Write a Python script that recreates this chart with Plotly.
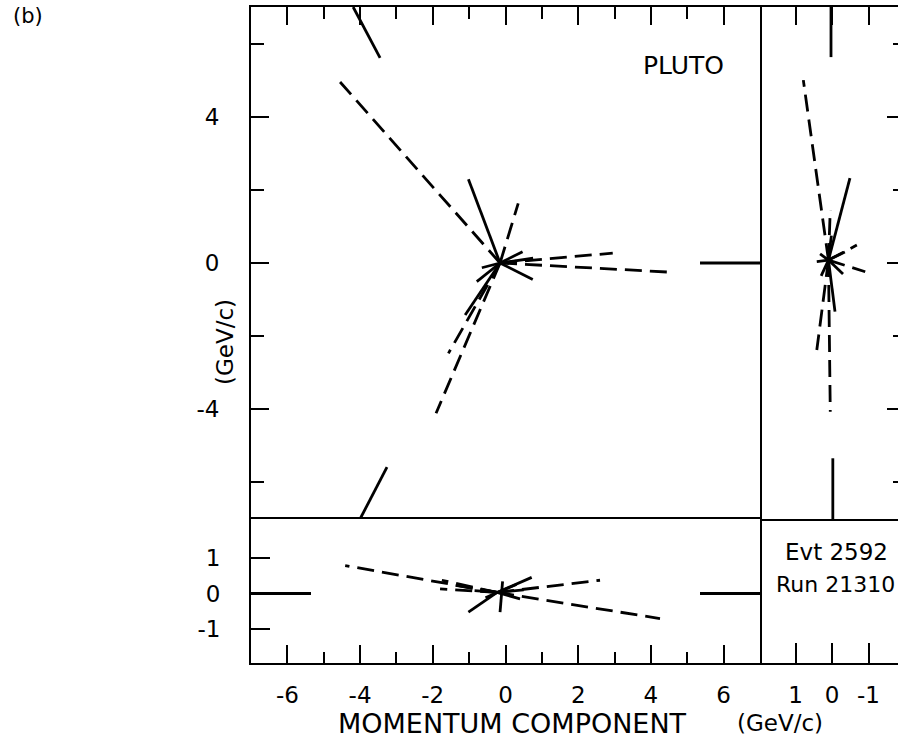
import plotly.graph_objects as go

# ---------------- data (GeV/c) ----------------
# main panel (x-y projection)
xy_vertex = (-0.15, 0.0)
xy_dashed_x = [-4.55, 0.35, 2.95, 4.52, -1.57, -1.91]
xy_dashed_y = [4.95, 1.63, 0.27, -0.25, -2.47, -4.11]
xy_solid_x = [-1.02, 0.75, 0.47, -0.65, 0.76, -1.11, -0.79, 0.30]
xy_solid_y = [2.29, -0.45, 0.31, -0.13, 0.13, -1.42, -0.51, 0.05]
xy_edge_x0 = [-4.19, -4.00, 5.35]
xy_edge_y0 = [7.0, -7.0, 0.0]
xy_edge_x1 = [-3.45, -3.26, 7.0]
xy_edge_y1 = [5.61, -5.58, 0.0]

# bottom panel (x-z projection)
xz_vertex = (-0.23, 0.03)
xz_dashed_x = [-4.41, 4.25, 2.60, -1.80, -1.75, -1.45]
xz_dashed_y = [0.78, -0.70, 0.37, 0.13, 0.37, 0.24]
xz_solid_x = [0.72, -1.02, -0.85, 0.50, -0.55, 0.40, 0.30]
xz_solid_y = [0.45, -0.52, 0.08, 0.10, -0.12, -0.15, 0.25]
xz_edge_x0 = [-7.0, 5.35, -0.08]
xz_edge_y0 = [0.0, 0.0, 0.34]
xz_edge_x1 = [-5.35, 7.0, -0.15]
xz_edge_y1 = [0.0, 0.0, -0.52]

# right panel (z-y projection)
zy_vertex = (0.10, 0.08)
zy_dashed_x = [0.79, 0.05, -0.68, -0.91, 0.42, 0.05]
zy_dashed_y = [5.00, 1.45, 0.49, -0.24, -2.38, -4.07]
zy_solid_x = [-0.49, 0.42, -0.08, 0.33, -0.30, 0.30, -0.35, 0.02]
zy_solid_y = [2.32, 0.04, -1.33, 0.25, -0.30, -0.35, 0.30, 0.75]
zy_edge_x0 = [0.03, -0.02]
zy_edge_y0 = [7.0, -7.0]
zy_edge_x1 = [0.03, -0.02]
zy_edge_y1 = [5.63, -5.34]

# tick labels
main_y_ticks = [-4, 0, 4]
main_x_ticks = [-6, -4, -2, 0, 2, 4, 6]
small_ticks = [-1, 0, 1]

# ---------------- figure ----------------
W, H = 898, 747
fig = go.Figure()
DASH = "17px,8px"
LW = 2.8


def seg(x0, y0, x1, y1, xa, ya, dash=None, width=LW):
    fig.add_trace(go.Scatter(
        x=[x0, x1], y=[y0, y1], mode="lines", xaxis=xa, yaxis=ya,
        line=dict(color="black", width=width, dash=dash or "solid"),
        hoverinfo="skip", showlegend=False))


def panel(vertex, dx, dy, sx, sy, ex0, ey0, ex1, ey1, xa, ya):
    vx, vy = vertex
    for x, y in zip(dx, dy):
        seg(vx, vy, x, y, xa, ya, dash=DASH)
    for x, y in zip(sx, sy):
        seg(vx, vy, x, y, xa, ya)
    for a, b, c, d in zip(ex0, ey0, ex1, ey1):
        seg(a, b, c, d, xa, ya)


panel(xy_vertex, xy_dashed_x, xy_dashed_y, xy_solid_x, xy_solid_y,
      xy_edge_x0, xy_edge_y0, xy_edge_x1, xy_edge_y1, "x", "y")
panel(xz_vertex, xz_dashed_x, xz_dashed_y, xz_solid_x, xz_solid_y,
      xz_edge_x0, xz_edge_y0, xz_edge_x1, xz_edge_y1, "x2", "y2")
panel(zy_vertex, zy_dashed_x, zy_dashed_y, zy_solid_x, zy_solid_y,
      zy_edge_x0, zy_edge_y0, zy_edge_x1, zy_edge_y1, "x3", "y3")
# invisible trace for the Evt box axes
fig.add_trace(go.Scatter(x=[0], y=[0.5], mode="markers", xaxis="x4", yaxis="y4",
                         marker=dict(opacity=0), hoverinfo="skip", showlegend=False))


def px(v):
    return v / W


def py(v):
    return 1 - v / H


XL, XM, XR = 251, 760, 898
YT, YM, YB = 7, 519, 663
FONT = dict(family="DejaVu Sans", size=23, color="black")
common = dict(showgrid=False, zeroline=False, linecolor="black", linewidth=2,
              tickcolor="black", tickwidth=2, ticks="inside", tickfont=FONT)

fig.update_layout(
    width=W, height=H, margin=dict(l=0, r=0, t=0, b=0),
    paper_bgcolor="white", plot_bgcolor="white", showlegend=False,
    font=FONT,
    xaxis=dict(**common, domain=[px(XL), px(XM)], range=[-7, 7], anchor="y",
               side="top", showline=True, mirror=False,
               tickmode="array", tickvals=main_x_ticks, ticklen=18,
               showticklabels=False,
               minor=dict(tickmode="array", tickvals=[-5, -3, -1, 1, 3, 5],
                          ticklen=12, ticks="inside", tickwidth=2, tickcolor="black")),
    yaxis=dict(**common, domain=[py(YM), py(YT)], range=[-7, 7], anchor="x",
               side="left", showline=True, mirror=True,
               tickmode="array", tickvals=main_y_ticks,
               ticktext=[str(v) for v in main_y_ticks], ticklen=18,
               ticklabelstandoff=25,
               minor=dict(tickmode="array", tickvals=[-6, -2, 2, 6],
                          ticklen=13, ticks="inside", tickwidth=2, tickcolor="black")),
    xaxis2=dict(**common, domain=[px(XL), px(XM)], range=[-7, 7], anchor="y2",
                side="bottom", showline=True, mirror=True,
                tickmode="array", tickvals=main_x_ticks,
                ticktext=[str(v) for v in main_x_ticks], ticklen=18,
                ticklabelstandoff=10,
                minor=dict(tickmode="array", tickvals=[-5, -3, -1, 1, 3, 5],
                           ticklen=11, ticks="inside", tickwidth=2, tickcolor="black")),
    yaxis2=dict(**common, domain=[py(YB), py(YM)], range=[-1.94, 2.08], anchor="x2",
                side="left", showline=True, mirror=True,
                tickmode="array", tickvals=small_ticks,
                ticktext=[str(v) for v in small_ticks], ticklen=19,
                ticklabelstandoff=24),
    xaxis3=dict(**common, domain=[px(XM), 1], range=[1.98, -1.81], anchor="y3",
                side="top", showline=True, mirror=True,
                tickmode="array", tickvals=small_ticks, ticklen=18,
                showticklabels=False),
    yaxis3=dict(**common, domain=[py(YM), py(YT)], range=[-7, 7], anchor="x3",
                side="right", showline=False,
                tickmode="array", tickvals=main_y_ticks, ticklen=11,
                showticklabels=False,
                minor=dict(tickmode="array", tickvals=[-6, -2, 2, 6],
                           ticklen=5, ticks="inside", tickwidth=2, tickcolor="black")),
    xaxis4=dict(**common, domain=[px(XM), 1], range=[1.98, -1.81], anchor="y4",
                side="bottom", showline=True, mirror=False,
                tickmode="array", tickvals=small_ticks,
                ticktext=[str(v) for v in small_ticks], ticklen=20,
                ticklabelstandoff=10),
    yaxis4=dict(domain=[py(YB), py(YM)], range=[0, 1], anchor="x4",
                showline=False, showgrid=False, zeroline=False,
                ticks="", showticklabels=False),
)

ann = [
    dict(text="(b)", x=px(28), y=py(16), size=21),
    dict(text="PLUTO", x=px(683), y=py(66), size=25),
    dict(text="MOMENTUM COMPONENT", x=px(512), y=py(723), size=27),
    dict(text="(GeV/c)", x=px(780), y=py(723), size=23),
    dict(text="Evt 2592", x=px(836), y=py(552), size=23),
    dict(text="Run 21310", x=px(835), y=py(584), size=22),
]
for a in ann:
    fig.add_annotation(text=a["text"], x=a["x"], y=a["y"], xref="paper", yref="paper",
                       xanchor="center", yanchor="middle", showarrow=False,
                       font=dict(family="DejaVu Sans", size=a["size"], color="black"))
fig.add_annotation(text="(GeV/c)", x=px(225), y=py(342), xref="paper", yref="paper",
                   xanchor="center", yanchor="middle", showarrow=False, textangle=-90,
                   font=dict(family="DejaVu Sans", size=23, color="black"))

fig.write_html("out.html")
